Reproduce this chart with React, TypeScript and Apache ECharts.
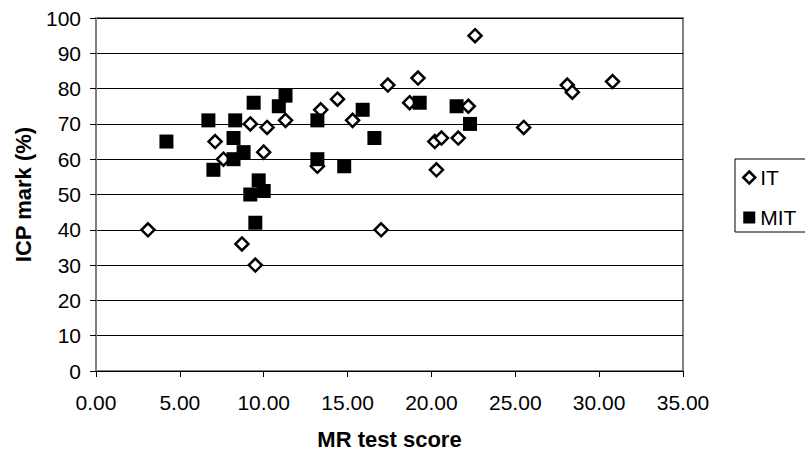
import React, { useEffect, useRef } from "react";
import * as echarts from "echarts";

const itScores = [3.1, 7.1, 7.6, 8.7, 9.2, 9.5, 10.0, 10.2, 11.3, 13.2, 13.4, 14.4, 15.3, 17.0, 17.4, 18.7, 19.2, 20.2, 20.3, 20.6, 21.6, 22.2, 22.6, 25.5, 28.1, 28.4, 30.8];
const itMarks = [40, 65, 60, 36, 70, 30, 62, 69, 71, 58, 74, 77, 71, 40, 81, 76, 83, 65, 57, 66, 66, 75, 95, 69, 81, 79, 82];

const mitScores = [4.2, 6.7, 7.0, 8.3, 8.2, 8.2, 8.8, 9.4, 10.9, 11.3, 9.7, 10.0, 9.2, 9.5, 13.2, 15.9, 16.6, 19.3, 21.5, 22.3, 13.2, 14.8];
const mitMarks = [65, 71, 57, 71, 66, 60, 62, 76, 75, 78, 54, 51, 50, 42, 71, 74, 66, 76, 75, 70, 60, 58];

const seriesNames = ["IT", "MIT"];
const xTitle = "MR test score";
const yTitle = "ICP mark (%)";

const FONT = "'Liberation Sans', Arial, sans-serif";

export default function App() {
  const ref = useRef<HTMLDivElement>(null);
  useEffect(() => {
    document.body.style.margin = "0";
    if (!ref.current) return;
    const chart = echarts.init(ref.current, null, { renderer: "svg" });
    const itData = itScores.map((x, i) => [x, itMarks[i]]);
    const mitData = mitScores.map((x, i) => [x, mitMarks[i]]);
    chart.setOption({
      animation: false,
      backgroundColor: "#fff",
      textStyle: { fontFamily: FONT },
      grid: {
        left: 96,
        right: 122,
        top: 18,
        bottom: 89,
        show: true,
        borderColor: "#808080",
        borderWidth: 2,
        backgroundColor: "#fff",
      },
      legend: {
        orient: "vertical",
        left: 735,
        top: 159,
        padding: [8, 40, 4, 7],
        itemGap: 19,
        itemWidth: 12,
        itemHeight: 12,
        borderColor: "#000",
        borderWidth: 1,
        backgroundColor: "#fff",
        textStyle: { fontFamily: FONT, fontSize: 21, color: "#000" },
        data: [
          { name: seriesNames[0], icon: "diamond", itemStyle: { color: "#fff", borderColor: "#000", borderWidth: 2.5 } },
          { name: seriesNames[1], icon: "rect", itemStyle: { color: "#000" } },
        ],
      },
      xAxis: {
        type: "value",
        min: 0,
        max: 35,
        interval: 5,
        name: xTitle,
        nameLocation: "middle",
        nameGap: 57,
        nameTextStyle: { fontFamily: FONT, fontSize: 22, fontWeight: "bold", color: "#000" },
        axisLine: { show: true, lineStyle: { color: "#000", width: 1 } },
        axisTick: { show: true, length: 6, lineStyle: { color: "#000" } },
        axisLabel: {
          formatter: (v: number) => v.toFixed(2),
          fontFamily: FONT,
          fontSize: 21,
          color: "#000",
          margin: 21,
        },
        splitLine: { show: false },
      },
      yAxis: {
        type: "value",
        min: 0,
        max: 100,
        interval: 10,
        name: yTitle,
        nameLocation: "middle",
        nameGap: 62,
        nameTextStyle: { fontFamily: FONT, fontSize: 22, fontWeight: "bold", color: "#000" },
        axisLine: { show: true, lineStyle: { color: "#808080", width: 2 } },
        axisTick: { show: true, length: 6, lineStyle: { color: "#000" } },
        axisLabel: { fontFamily: FONT, fontSize: 21, color: "#000", margin: 15 },
        splitLine: { show: true, lineStyle: { color: "#000", width: 1 } },
      },
      series: [
        {
          name: seriesNames[0],
          type: "scatter",
          data: itData,
          symbol: "diamond",
          symbolSize: 13,
          itemStyle: { color: "#fff", borderColor: "#000", borderWidth: 2.5, opacity: 1 },
          z: 2,
        },
        {
          name: seriesNames[1],
          type: "scatter",
          data: mitData,
          symbol: "rect",
          symbolSize: 14,
          itemStyle: { color: "#000", opacity: 1 },
          z: 3,
        },
      ],
    });
    return () => chart.dispose();
  }, []);
  return <div ref={ref} style={{ width: 805, height: 460 }} />;
}
